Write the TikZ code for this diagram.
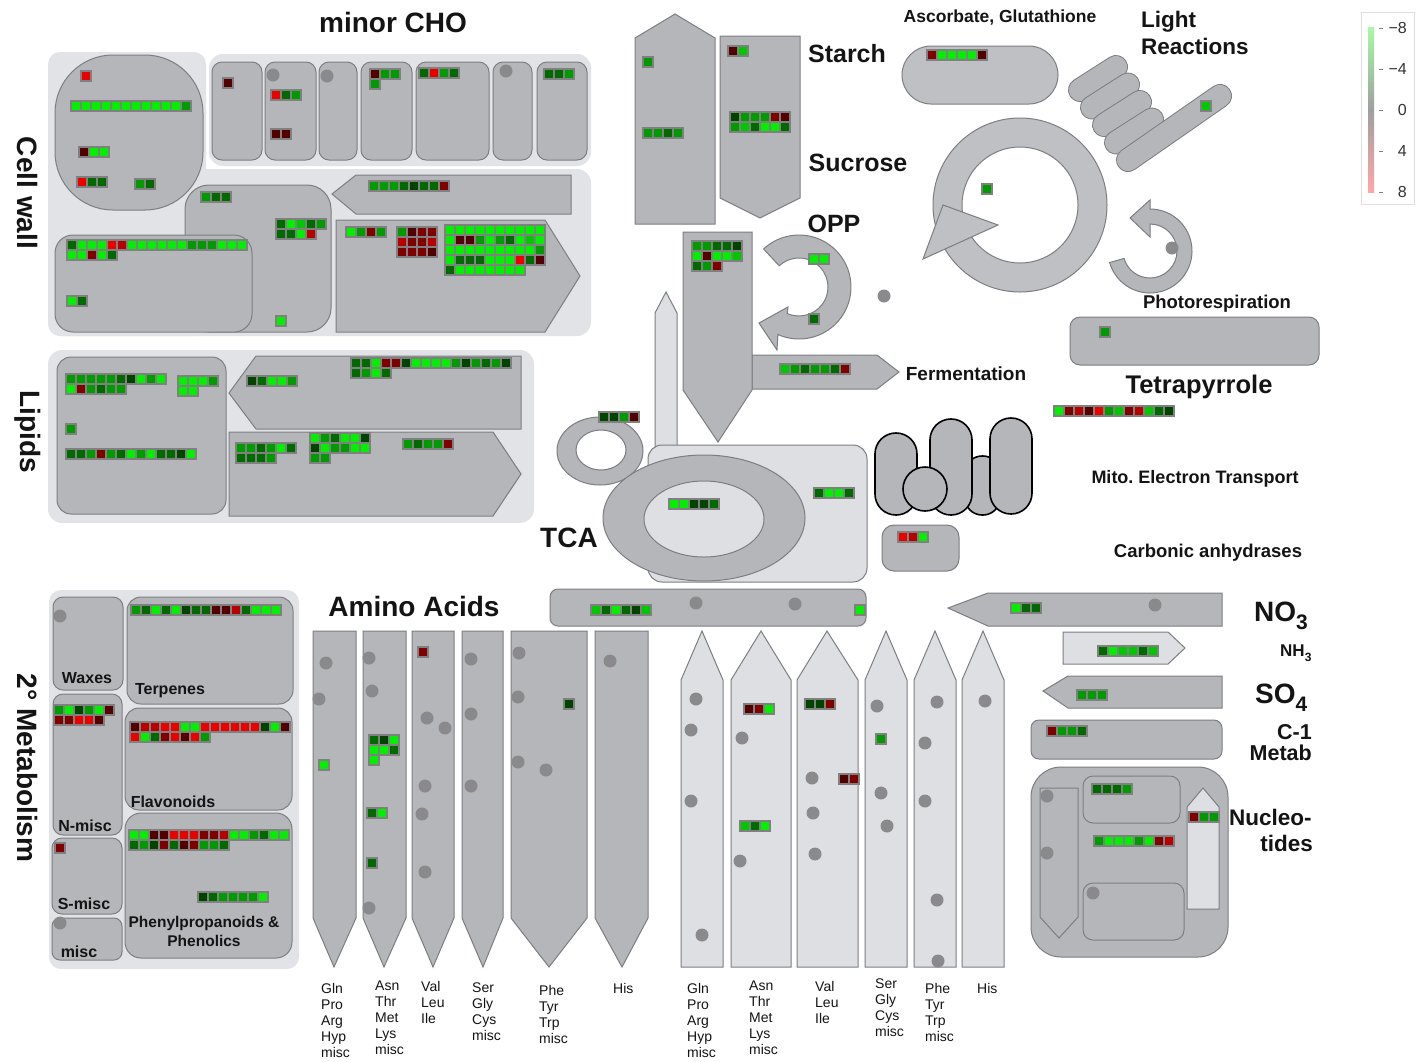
\documentclass[tikz,border=0pt]{standalone}
\usepackage{fontspec}
\setmainfont{Liberation Sans}
\definecolor{shpc}{RGB}{181,182,186}
\definecolor{shp2}{RGB}{191,192,196}
\definecolor{bordc}{RGB}{125,126,130}
\definecolor{lightc}{RGB}{222,223,227}
\definecolor{regc}{RGB}{226,227,230}
\definecolor{blkc}{RGB}{128,128,128}
\definecolor{dotc}{RGB}{138,138,140}
\definecolor{txtc}{RGB}{20,20,20}
\definecolor{G1}{RGB}{0,240,0}
\definecolor{G2}{RGB}{0,200,0}
\definecolor{G3}{RGB}{0,155,0}
\definecolor{G4}{RGB}{0,105,0}
\definecolor{G5}{RGB}{0,68,0}
\definecolor{R1}{RGB}{235,0,0}
\definecolor{R2}{RGB}{185,0,0}
\definecolor{R3}{RGB}{128,0,0}
\definecolor{R4}{RGB}{85,0,0}
\newcommand\cellblk[4]{%
  \foreach \bkc [count=\bki from 0] in {#4}{%
    \pgfmathtruncatemacro\bkx{mod(\bki,#3)}%
    \pgfmathtruncatemacro\bky{floor(\bki/#3)}%
    \fill[blkc] ({#1+10*\bkx},{#2+10*\bky}) rectangle ++(12,12);%
  }%
  \foreach \bkc [count=\bki from 0] in {#4}{%
    \pgfmathtruncatemacro\bkx{mod(\bki,#3)}%
    \pgfmathtruncatemacro\bky{floor(\bki/#3)}%
    \fill[fill=\bkc] ({#1+2+10*\bkx},{#2+2+10*\bky}) rectangle ++(8,8);%
  }%
}
\newcommand\gdot[2]{\fill[dotc] (#1,#2) circle (6.5);}
\begin{document}
\begin{tikzpicture}[x=1pt,y=-1pt,
  shp/.style={fill=shpc,draw=bordc,line width=1pt},
  lsh/.style={fill=lightc,draw=bordc,line width=1pt},
  reg/.style={fill=regc},
  mito/.style={fill=shpc,draw=black,line width=1.6pt},
  lab/.style={font={\bfseries\fontsize{#1}{#1}\selectfont},inner sep=0pt,text=txtc},
  aal/.style={font={\fontsize{14}{16}\selectfont},align=left,anchor=north west,inner sep=0pt,text=txtc}]
\fill[white] (0,0) rectangle (1424,1061);
\useasboundingbox (0,0) rectangle (1424,1061);

% ---------- regions ----------
\fill[reg,rounded corners=12] (48,52) rectangle (206,336);
\fill[reg,rounded corners=14] (209,54) rectangle (591,166);
\fill[reg,rounded corners=14] (48,169) rectangle (591,336);
\fill[reg,rounded corners=14] (48,350) rectangle (534,523);
\fill[reg,rounded corners=12] (49,590) rectangle (299,969);

% ---------- cell wall ----------
\foreach \xa/\xb in {212/262,265/316,319/357,361/412,416/489,493/532,537/587}
  {\draw[shp,rounded corners=10] (\xa,62) rectangle (\xb,160);}
\draw[shp,rounded corners=58] (55,55) rectangle (203,210);
\draw[shp,rounded corners=24] (185,185) rectangle (331,332);
\draw[shp,rounded corners=18] (55,235) rectangle (252,332);
\draw[shp] (332,194)--(356,175)--(571,175)--(571,214)--(356,214)--cycle;
\draw[shp] (336,220)--(545,220)--(580,276)--(545,332)--(336,332)--cycle;

% ---------- lipids ----------
\draw[shp,rounded corners=14] (57,357) rectangle (226,514);
\draw[shp] (229,393)--(256,356)--(521,356)--(521,429)--(256,429)--cycle;
\draw[shp] (229,432)--(493,432)--(521,474)--(493,516)--(229,516)--cycle;

% ---------- secondary metabolism ----------
\draw[shp,rounded corners=10] (53,597) rectangle (123,690);
\draw[shp,rounded corners=14] (127,597) rectangle (293,704);
\draw[shp,rounded corners=10] (53,694) rectangle (122,835);
\draw[shp,rounded corners=14] (125,708) rectangle (292,810);
\draw[shp,rounded corners=10] (52,838) rectangle (122,914);
\draw[shp,rounded corners=8] (52,918) rectangle (122,960);
\draw[shp,rounded corners=16] (125,813) rectangle (292,958);

% ---------- starch / sucrose ----------
\draw[shp] (635,224)--(635,38)--(675,14)--(715,38)--(715,224)--cycle;
\draw[shp] (720,36)--(800,36)--(800,198)--(760,218)--(720,198)--cycle;

% ---------- glycolysis, fermentation ----------
\draw[lsh] (655,450)--(655,313)--(666,292)--(677,313)--(677,450)--cycle;
\draw[shp] (752,355)--(877,355)--(899,372)--(877,389)--(752,389)--cycle;
\draw[shp] (683,232)--(752,232)--(752,390)--(718,442)--(683,390)--cycle;

% ---------- OPP ----------
\draw[shp] ([shift={(799,287)}]-133:52) arc[start angle=-133,end angle=114,radius=52]
  -- (777,350) -- (759,323) -- (788,307)
  -- ([shift={(799,287)}]114:29) arc[start angle=114,end angle=-133,radius=29] -- cycle;

% ---------- ascorbate ----------
\draw[shp,fill=shp2,rounded corners=29] (902,46) rectangle (1058,104);

% ---------- Calvin cycle ----------
\fill[shp2,even odd rule] (1020,205) circle (87) (1020,205) circle (58);
\draw[bordc,line width=1pt] (1020,205) circle (87) (1020,205) circle (58);
\draw[shp,fill=shp2] (943,205)--(998,225)--(923,259)--cycle;

% ---------- light reactions ----------
\foreach \k in {0,1,2,3}{
  \draw[bordc,line width=24pt,line cap=round] ({1080+12*\k},{90+17.5*\k}) -- ({1116+12*\k},{67+17.5*\k});
  \draw[shpc,line width=22pt,line cap=round] ({1080+12*\k},{90+17.5*\k}) -- ({1116+12*\k},{67+17.5*\k});
}
\draw[bordc,line width=24pt,line cap=round] (1128,160) -- (1220,96);
\draw[shpc,line width=22pt,line cap=round] (1128,160) -- (1220,96);

% ---------- photorespiration ----------
\draw[shp] ([shift={(1150,251)}]164:42) arc[start angle=164,end angle=-90,radius=42]
  -- (1150,200) -- (1130,218) -- (1150,237)
  -- ([shift={(1150,251)}]-90:27) arc[start angle=-90,end angle=164,radius=27] -- cycle;
\draw[shp,rounded corners=10] (1070,317) rectangle (1319,365);

% ---------- TCA ----------
\draw[shp,even odd rule] (600,451) ellipse (43 and 34) (601,450) ellipse (25 and 20);
\draw[lsh,rounded corners=14] (648,445) rectangle (867,582);
\draw[shp] (704,518) ellipse (101 and 63);
\draw[lsh] (704,519) ellipse (60 and 38);

% ---------- mito electron transport ----------
\draw[mito,rounded corners=17] (965,456) rectangle (1000,515);
\draw[mito,rounded corners=20.9] (875,433) rectangle (917,515);
\draw[mito,rounded corners=20.9] (930,419) rectangle (972,515);
\draw[mito,rounded corners=20.9] (990,418) rectangle (1032,514);
\draw[mito] (925,489) circle (22);
\draw[shp,rounded corners=12] (882,525) rectangle (959,571);

% ---------- bar ----------
\draw[shp,rounded corners=8] (550,589) rectangle (866,626);

% ---------- amino acids ----------
\foreach \xa/\xb/\xt in {313/356/334,363/406/384,412/454/433,462/503/483,511/587/549,595/648/622}
  {\draw[shp] (\xa,631)--(\xb,631)--(\xb,918)--(\xt,967)--(\xa,918)--cycle;}
\foreach \xa/\xb/\xt in {681/723/702,731/791/761,797/858/827,865/907/886,914/956/935,962/1004/983}
  {\draw[lsh] (\xa,967)--(\xa,680)--(\xt,631)--(\xb,680)--(\xb,967)--cycle;}

% ---------- N, S, C1 ----------
\draw[shp] (948,608)--(988,593)--(1222,593)--(1222,626)--(988,626)--cycle;
\draw[lsh] (1063,632)--(1168,632)--(1185,648)--(1168,664)--(1063,664)--cycle;
\draw[shp] (1043,691)--(1068,676)--(1222,676)--(1222,708)--(1068,708)--cycle;
\draw[shp,rounded corners=8] (1031,720) rectangle (1222,759);

% ---------- nucleotides ----------
\draw[shp,rounded corners=30] (1031,767) rectangle (1228,957);
\draw[shp] (1040,788)--(1078,788)--(1078,917)--(1059,938)--(1040,917)--cycle;
\draw[shp,rounded corners=10] (1083,776) rectangle (1180,823);
\draw[shp,rounded corners=10] (1083,883) rectangle (1184,940);
\draw[lsh] (1187,909)--(1187,807)--(1203,788)--(1219,807)--(1219,909)--cycle;

% ---------- dots ----------
\foreach \px/\py in {273/75,327/76,506/71,884/296,1172/248,696/603,795/604,
  326/663,319/699,369/658,372/691,369/908,427/718,445/728,425/786,422/814,425/872,
  471/659,471/714,471/786,519/653,518/697,518/762,546/770,610/661,
  696/699,691/730,691/801,702/935,742/738,740/861,812/778,813/813,815/854,
  877/706,881/793,887/826,937/702,925/743,925/801,937/900,938/961,985/701,
  1155/605,1047/796,1047/853,1093/893,60/616,60/923}
  {\gdot{\px}{\py}}

% ---------- data blocks ----------
% cell wall
\cellblk{80}{70}{1}{R1}
\cellblk{70}{100}{12}{G1,G1,G1,G1,G1,G1,G1,G1,G1,G1,G1,G3}
\cellblk{78}{146}{3}{R4,G1,G1}
\cellblk{76}{176}{3}{R1,G4,G4}
\cellblk{134}{178}{2}{G3,G4}
\cellblk{222}{77}{1}{R4}
\cellblk{270}{89}{3}{R1,G4,G3}
\cellblk{270}{128}{2}{R4,R4}
\cellblk{369}{68}{3}{R4,G3,G3,G3}
\cellblk{418}{67}{4}{G4,R1,G3,G4}
\cellblk{543}{68}{3}{G4,G4,G3}
\cellblk{200}{191}{3}{G3,G4,G4}
\cellblk{275}{218}{5}{G4,G1,G2,G4,G3,G4,G4,G1,R2}
\cellblk{275}{315}{1}{G1}
\cellblk{66}{239}{18}{G4,G1,G1,G1,R1,R2,G1,G1,G1,G1,G1,G1,G3,G3,G3,G1,G1,G1,G1,G1,R3,G1,G4}
\cellblk{66}{295}{2}{G1,G4}
\cellblk{368}{180}{8}{G3,G3,G3,G4,G5,G4,G4,R3}
\cellblk{345}{226}{4}{G1,G3,R3,G3}
\cellblk{396}{226}{4}{G3,R4,R3,R3,R2,R3,R3,R2,R3,R3,R3,R4}
\cellblk{444}{224}{10}{G1,G1,G1,G1,G1,G1,G1,G1,G1,G1,G1,R4,R4,G3,G1,G3,G4,G1,G2,G1,G1,G1,G1,G1,G1,G1,G1,G1,G1,G3,G1,G4,G4,G4,G1,G1,G1,R1,G4,R4,G4,G1,G1,G1,G1,G1,G1,G1}
% lipids
\cellblk{65}{373}{10}{G3,G3,G3,G3,G3,G4,G5,G1,G3,G1,G1,R3,G3,G4,G3,G3}
\cellblk{177}{375}{4}{G1,G1,G1,G3,G1,G1}
\cellblk{65}{423}{1}{G3}
\cellblk{65}{448}{13}{G4,G4,G3,R3,G3,G4,G1,G3,G1,G4,G4,G5,G1}
\cellblk{246}{375}{5}{G5,G4,G1,G1,G3}
\cellblk{350}{357}{16}{G4,G4,G1,R3,R3,G5,G1,G1,G1,G1,G3,G5,G3,G4,G3,G5,G4,G3,G1,G4}
\cellblk{235}{442}{6}{G3,G3,G4,G3,G1,G4,G4,G4,G4,G3}
\cellblk{309}{432}{6}{G1,G3,G4,G1,G1,G5,G5,G1,G3,G3,G1,G1,G3,G3}
\cellblk{402}{438}{5}{G3,G4,G3,G3,R3}
% starch / sucrose / glycolysis / OPP / fermentation
\cellblk{642}{56}{1}{G3}
\cellblk{642}{127}{4}{G3,G3,G4,G3}
\cellblk{727}{45}{2}{R4,G2}
\cellblk{729}{111}{6}{G5,G3,G3,G3,R3,R4,G3,G2,G4,G1,G1,G4}
\cellblk{691}{240}{5}{G3,G3,G4,G4,G5,G1,R4,G1,G1,G2,G4,G3,R3}
\cellblk{808}{253}{2}{G1,G1}
\cellblk{808}{313}{1}{G4}
\cellblk{779}{363}{7}{G2,G3,G4,G3,G3,G4,R3}
% ascorbate, calvin, light, photoresp, tetrapyrrole
\cellblk{926}{49}{6}{R3,G1,G1,G1,G1,R4}
\cellblk{981}{183}{1}{G3}
\cellblk{1200}{100}{1}{G2}
\cellblk{1099}{326}{1}{G3}
\cellblk{1053}{405}{12}{G1,R3,R2,R4,R1,G3,G2,R3,R2,G2,G4,G5}
% TCA, carbonic, bar
\cellblk{598}{411}{4}{G5,G5,G3,R4}
\cellblk{668}{498}{5}{G1,G1,G5,G5,G4}
\cellblk{813}{487}{4}{G4,G1,G1,G4}
\cellblk{897}{531}{3}{R1,R2,G1}
\cellblk{590}{604}{6}{G2,G4,G1,G4,G5,G2}
\cellblk{854}{604}{1}{G1}
% amino acids
\cellblk{318}{759}{1}{G1}
\cellblk{368}{734}{3}{G4,G5,G1,G1,G1,G4,G1}
\cellblk{366}{807}{2}{G4,G1}
\cellblk{366}{857}{1}{G4}
\cellblk{417}{646}{1}{R3}
\cellblk{563}{698}{1}{G5}
\cellblk{743}{703}{3}{R4,R3,G1}
\cellblk{739}{820}{3}{G2,G4,G1}
\cellblk{804}{698}{3}{G5,G5,R3}
\cellblk{838}{773}{2}{R4,R3}
\cellblk{875}{733}{1}{G3}
% N, S, C1, nucleotides
\cellblk{1010}{602}{3}{G1,G4,G4}
\cellblk{1097}{645}{6}{G4,G1,G2,G2,G4,G2}
\cellblk{1076}{689}{3}{G3,G3,G3}
\cellblk{1046}{725}{4}{R3,G3,G3,G4}
\cellblk{1091}{783}{4}{G4,G4,G4,G3}
\cellblk{1093}{835}{8}{G3,G1,G1,G1,G3,G1,R3,R2}
\cellblk{1188}{811}{3}{R3,G3,G3}
% secondary metabolism
\cellblk{130}{604}{15}{G3,G4,G1,G4,G1,G5,G4,G4,R4,R4,R2,G4,G1,G1,G1}
\cellblk{53}{704}{6}{G3,G1,G5,G3,G1,R4,R3,R3,R1,R1,R4}
\cellblk{129}{721}{16}{R4,R2,R2,R1,R1,G1,G1,R1,R1,R1,R1,R1,R1,G5,G1,R4,R1,G1,G4,R3,R1,R4,R1,G3}
\cellblk{54}{842}{1}{R3}
\cellblk{128}{829}{16}{G1,G1,R4,R4,R1,R1,R1,R3,R3,R2,G1,G1,G3,G4,G1,G1,G4,G3,G5,R3,G4,R4,R3,G3,G3,G4}
\cellblk{197}{891}{7}{G5,G4,G3,G3,G3,G3,G1}

% ---------- labels ----------
\node[lab=28,anchor=base] (tminor) at (393,32) {minor CHO};
\node[lab=28,rotate=-90] (tcw) at (28,193) {Cell wall};
\node[lab=28,rotate=-90] (tlip) at (28,432) {Lipids};
\node[lab=28,rotate=-90] (tsec) at (28,768) {2° Metabolism};
\node[lab=25,anchor=base] (tstarch) at (847,62) {Starch};
\node[lab=25,anchor=base] (tsuc) at (858,171) {Sucrose};
\node[lab=25,anchor=base] (topp) at (834,232) {OPP};
\node[lab=17.5,anchor=base] (tasc) at (1000,22.3) {Ascorbate, Glutathione};
\node[lab=22.5,anchor=base west] (tlight) at (1141,27) {Light};
\node[lab=22.5,anchor=base west] (treac) at (1141,54) {Reactions};
\node[lab=18.5,anchor=base] (tphot) at (1217,308.7) {Photorespiration};
\node[lab=25.5,anchor=base] (ttetra) at (1199,393) {Tetrapyrrole};
\node[lab=19,anchor=base] (tferm) at (966,380) {Fermentation};
\node[lab=18,anchor=base] (tmito) at (1195,483.5) {Mito.\ Electron Transport};
\node[lab=18.5,anchor=base] (tcarb) at (1208,557.7) {Carbonic anhydrases};
\node[lab=28,anchor=base] (ttca) at (569,547) {TCA};
\node[lab=28,anchor=base] (taa) at (414,616) {Amino Acids};
\node[lab=28,anchor=base west] (tno) at (1254,621) {NO\raisebox{-0.32em}{\fontsize{21}{21}\selectfont 3}};
\node[lab=17,anchor=base west] (tnh) at (1280,656) {NH\raisebox{-0.3em}{\fontsize{12}{12}\selectfont 3}};
\node[lab=28,anchor=base west] (tso) at (1255,703) {SO\raisebox{-0.32em}{\fontsize{21}{21}\selectfont 4}};
\node[lab=21.5,anchor=base east] (tc1) at (1312,739.5) {C-1};
\node[lab=21.5,anchor=base east] (tmet) at (1312,760.5) {Metab};
\node[lab=22.5,anchor=base west] (tnuc) at (1229,825) {Nucleo-};
\node[lab=22.5,anchor=base east] (ttid) at (1313,851) {tides};
\node[lab=16,anchor=base] (twax) at (87,683) {Waxes};
\node[lab=16,anchor=base] (tterp) at (170,694) {Terpenes};
\node[lab=16,anchor=base] (tnmisc) at (85,831) {N-misc};
\node[lab=16,anchor=base] (tflav) at (173,807) {Flavonoids};
\node[lab=16,anchor=base] (tsmisc) at (84,909) {S-misc};
\node[lab=16,anchor=base] (tmisc) at (79,957) {misc};
\node[lab=15.5,anchor=base] (tphen1) at (204,927.5) {Phenylpropanoids \&};
\node[lab=15.5,anchor=base] (tphen2) at (204,946.5) {Phenolics};

% amino acid labels
\node[aal] (a1) at (321,983) {Gln\\Pro\\Arg\\Hyp\\misc};
\node[aal] (a2) at (375,981) {Asn\\Thr\\Met\\Lys\\misc};
\node[aal] (a3) at (421,981) {Val\\Leu\\Ile};
\node[aal] (a4) at (472,983) {Ser\\Gly\\Cys\\misc};
\node[aal] (a5) at (539,985) {Phe\\Tyr\\Trp\\misc};
\node[aal] (a6) at (613,983) {His};
\node[aal] (b1) at (687,983) {Gln\\Pro\\Arg\\Hyp\\misc};
\node[aal] (b2) at (749,981) {Asn\\Thr\\Met\\Lys\\misc};
\node[aal] (b3) at (815,981) {Val\\Leu\\Ile};
\node[aal] (b4) at (875,979) {Ser\\Gly\\Cys\\misc};
\node[aal] (b5) at (925,983) {Phe\\Tyr\\Trp\\misc};
\node[aal] (b6) at (977,983) {His};

% ---------- legend ----------
\draw[draw=gray!25,fill=white] (1361,12) rectangle (1414,204);
\shade[top color=G1!35!white,bottom color=red!35!white,middle color=gray!75] (1368,27) rectangle (1374,192);
\foreach \yy/\lbl [count=\n] in {28/−8,69/−4,110/0,151/4,192/8}{
  \draw[gray,line width=0.8pt] (1379,\yy) -- (1383,\yy);
  \node[anchor=east,inner sep=0pt,font={\fontsize{16}{16}\selectfont},text=black!80] (leg\n) at (1407,\yy) {\lbl};
}
\end{tikzpicture}
\end{document}
